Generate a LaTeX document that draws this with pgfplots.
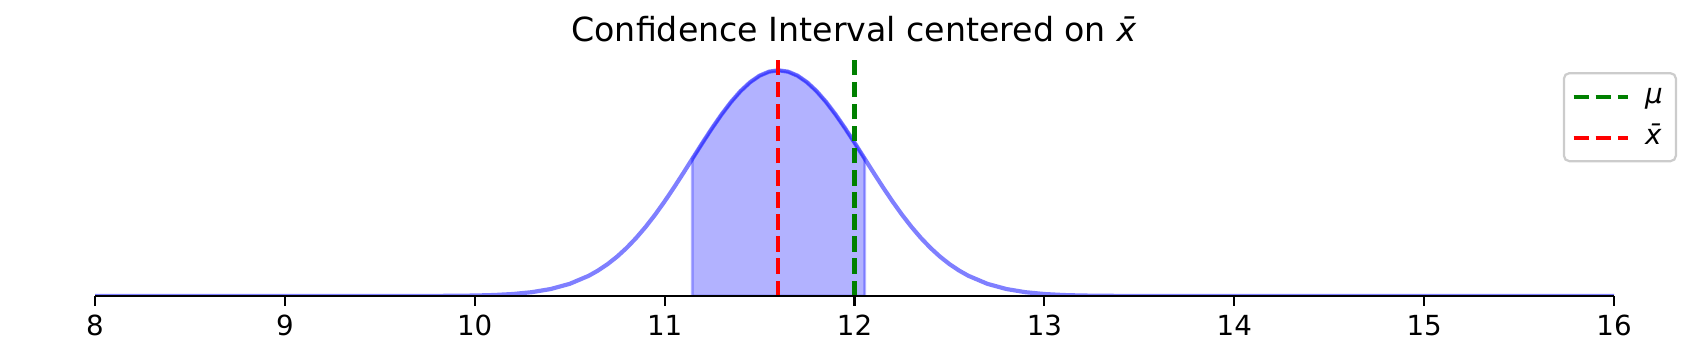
\documentclass[border=0pt]{standalone}
\usepackage{fontspec}
\setmainfont{DejaVu Sans}
\usepackage{pgfplots}
\pgfplotsset{compat=1.18}
\definecolor{mplgreen}{HTML}{008000}
\definecolor{mplred}{HTML}{FF0000}
\definecolor{mplblue}{HTML}{0000FF}
\begin{document}
\begin{tikzpicture}
\begin{axis}[
  scale only axis,
  width=546.84bp, height=85.32bp,
  xmin=8, xmax=16, ymin=0, ymax=0.92064,
  axis x line*=bottom, axis y line=none,
  axis line style={-, line width=0.8bp, black},
  axis on top,
  xtick={8,9,10,11,12,13,14,15,16},
  ytick=\empty,
  tick align=outside,
  major tick length=3.5bp,
  every tick/.style={black, line width=0.8bp},
  /pgf/number format/assume math mode=true,
  xticklabel style={font=\fontsize{10}{12}\selectfont, inner sep=0pt, anchor=north, text height=7.3bp, text depth=0pt},
  xticklabel shift=3.34bp,
  title={Confidence Interval centered on \textit{x̄}},
  title style={font=\fontsize{12}{14}\selectfont, at={(0.5,1)}, anchor=base, yshift=0.2bp, inner sep=0pt},
  legend style={at={(1.0415,0.945)}, anchor=north east, draw=black!20, line width=0.8bp,
    rounded corners=2bp, fill=white, fill opacity=0.8, text opacity=1,
    font=\fontsize{10}{12}\selectfont, inner xsep=2.75bp, inner ysep=1.45bp,
    row sep=0.8bp, column sep=3.5bp,
    nodes={inner sep=2bp, text height=7.5bp, text depth=2.5bp}},
  legend cell align=left,
  legend image code/.code={\draw[#1] (0bp,0bp) -- (19.5bp,0bp);},
]
% normal curve
\addplot[draw=mplblue, draw opacity=0.5, line width=1.5bp, forget plot] coordinates {
(8,0) (9,0) (9.6,0) (9.8,0.0004) (10.0,0.0018) (10.1,0.0038) (10.2,0.0077) (10.3,0.0148)
(10.4,0.0271) (10.5,0.0472) (10.6,0.0784) (10.65,0.0992) (10.7,0.1240) (10.75,0.1531)
(10.8,0.1869) (10.85,0.2254) (10.9,0.2685) (10.95,0.3160) (11.0,0.3675) (11.05,0.4223)
(11.1,0.4794) (11.15,0.5377) (11.2,0.5958) (11.25,0.6522) (11.3,0.7055) (11.35,0.7540)
(11.4,0.7961) (11.45,0.8304) (11.5,0.8559) (11.55,0.8715) (11.6,0.8768)
(11.65,0.8715) (11.7,0.8559) (11.75,0.8304) (11.8,0.7961) (11.85,0.7540) (11.9,0.7055)
(11.95,0.6522) (12.0,0.5958) (12.05,0.5377) (12.1,0.4794) (12.15,0.4223) (12.2,0.3675)
(12.25,0.3160) (12.3,0.2685) (12.35,0.2254) (12.4,0.1869) (12.45,0.1531) (12.5,0.1240)
(12.55,0.0992) (12.6,0.0784) (12.7,0.0472) (12.8,0.0271) (12.9,0.0148) (13.0,0.0077)
(13.1,0.0038) (13.2,0.0018) (13.4,0.0004) (13.6,0.0001) (14,0) (16,0)
};
% confidence interval fill
\addplot[fill=mplblue, fill opacity=0.3, draw=mplblue, draw opacity=0.3, line width=1bp, forget plot] coordinates {
(11.146,0) (11.146,0.5330) (11.15,0.5377) (11.2,0.5958) (11.25,0.6522) (11.3,0.7055) (11.35,0.7540)
(11.4,0.7961) (11.45,0.8304) (11.5,0.8559) (11.55,0.8715) (11.6,0.8768)
(11.65,0.8715) (11.7,0.8559) (11.75,0.8304) (11.8,0.7961) (11.85,0.7540) (11.9,0.7055)
(11.95,0.6522) (12.0,0.5958) (12.05,0.5377) (12.054,0.5330) (12.054,0)
} -- cycle;
% mu
\addplot[mplgreen, line width=1.5bp, dash pattern=on 5.55bp off 2.4bp] coordinates {(12.0,0) (12.0,0.92064)};
\addlegendentry{\textit{μ}}
% xbar
\addplot[mplred, line width=1.5bp, dash pattern=on 5.55bp off 2.4bp] coordinates {(11.595,0) (11.595,0.92064)};
\addlegendentry{\textit{x̄}}
\coordinate (ll) at (rel axis cs:0,0);
\coordinate (ur) at (rel axis cs:1,1);
\end{axis}
\pgfresetboundingbox
\path ([shift={(-34.2bp,-23.04bp)}]ll) rectangle ([shift={(33.84bp,21.24bp)}]ur);
\end{tikzpicture}
\end{document}
